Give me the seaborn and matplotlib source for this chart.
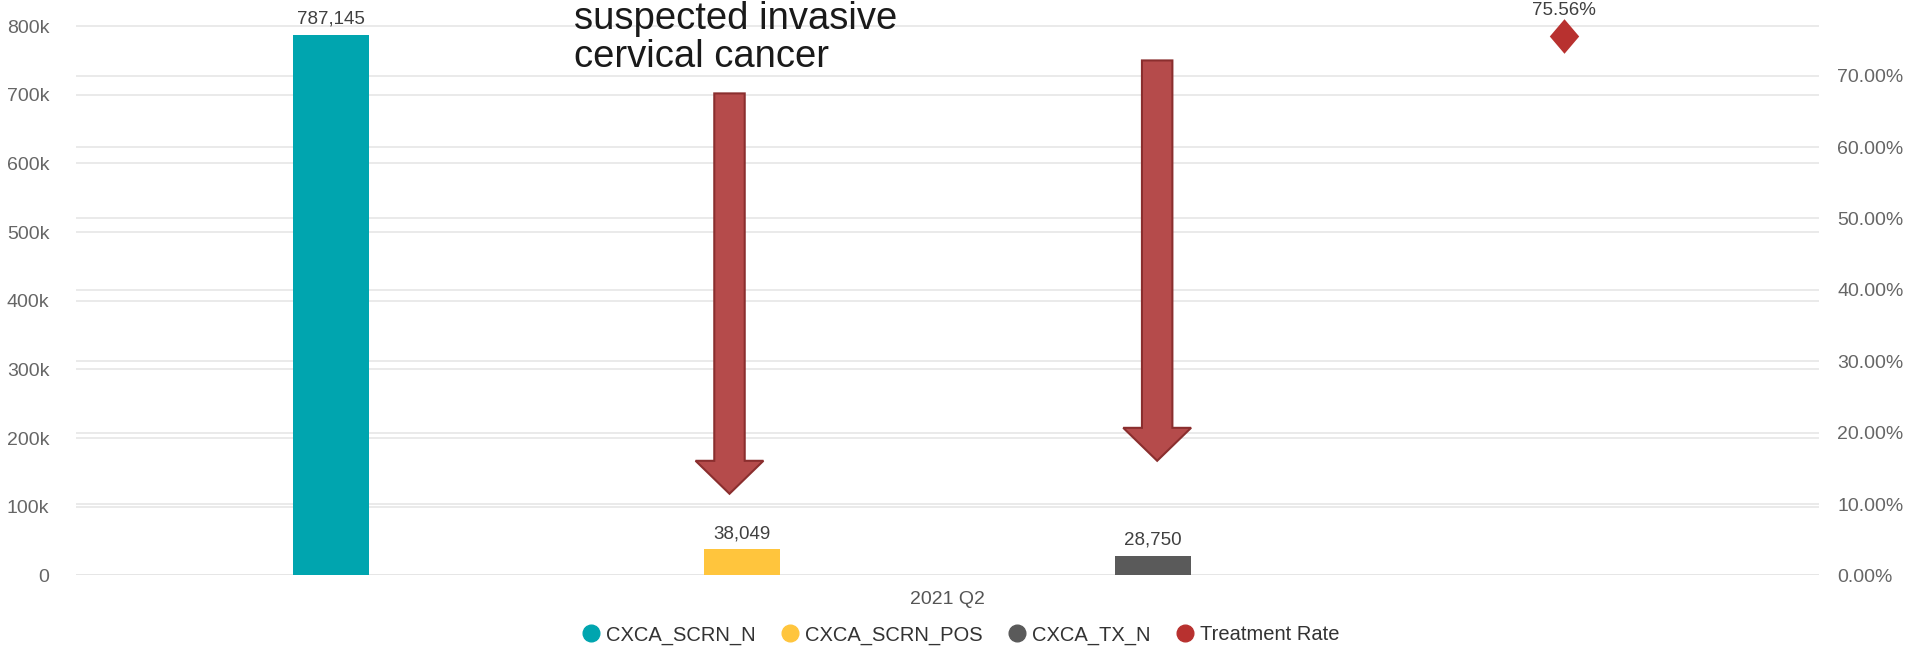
import numpy as np
import pandas as pd
import matplotlib
matplotlib.use("Agg")
import matplotlib.pyplot as plt
import seaborn as sns
from matplotlib.path import Path
from matplotlib.lines import Line2D
from matplotlib.patches import FancyArrow
from matplotlib.ticker import FuncFormatter

# ---------------- data ----------------
quarter = "2021 Q2"
series = ["CXCA_SCRN_N", "CXCA_SCRN_POS", "CXCA_TX_N", "Treatment Rate"]
bar_series = ["CXCA_SCRN_N", "CXCA_SCRN_POS", "CXCA_TX_N"]
bar_values = [787145, 38049, 28750]
rate_series = ["Treatment Rate"]
rate_values = [75.56]
colors = ["#00A5AF", "#FFC53D", "#5A5A5A", "#B8312F"]
left_ticks = [0, 100000, 200000, 300000, 400000, 500000, 600000, 700000, 800000]
right_ticks = [0, 10, 20, 30, 40, 50, 60, 70]
note_lines = ["suspected invasive", "cervical cancer"]
arrow_series = ["CXCA_SCRN_POS", "CXCA_TX_N"]

# ---------------- style ----------------
sns.set_theme(style="white")
plt.rcParams["font.family"] = ["Liberation Sans", "DejaVu Sans"]

fig = plt.figure(figsize=(19.15, 6.51), dpi=100)
ax = fig.add_axes([0.0395, 0.116, 0.9105, 0.884])
ax2 = ax.twinx()
ax.set_zorder(2)
ax.patch.set_visible(False)
ax2.set_zorder(1)

df = pd.DataFrame({"quarter": [quarter] * len(bar_series),
                   "series": bar_series, "value": bar_values})
palette = dict(zip(series, colors))
sns.barplot(data=df, x="quarter", y="value", hue="series", hue_order=series,
            palette=palette, width=0.8, gap=0.815, saturation=1,
            linewidth=0, ax=ax, legend=False)

n = len(series)
def slot(name):
    return -0.4 + 0.8 / n * (series.index(name) + 0.5)

LEFT_MAX = 838000
RIGHT_MAX = 80.6
ax.set_xlim(-0.424, 0.424)
ax.set_ylim(0, LEFT_MAX)
ax.set_yticks(left_ticks)
ax.yaxis.set_major_formatter(FuncFormatter(lambda v, p: "0" if v == 0 else f"{int(v/1000)}k"))
ax.set_xlabel("")
ax.set_ylabel("")
ax.grid(False)
ax.tick_params(axis="y", length=0, pad=19, labelsize=14, labelcolor="#666666")
ax.tick_params(axis="x", length=0, pad=11, labelsize=14, labelcolor="#555555")
for s in ax.spines.values():
    s.set_visible(False)

# left-axis gridlines drawn on the back axes so they stay behind the bars
for t in left_ticks:
    ax2.axhline(t / LEFT_MAX * RIGHT_MAX, color="#e6e6e6", linewidth=1.2, zorder=0)

for cont in ax.containers:
    ax.bar_label(cont, labels=[f"{v:,.0f}" for v in cont.datavalues], padding=5,
                 fontsize=13.5, color="#404040")

# secondary axis with the rate
diamond = Path([(0, 1), (0.85, 0), (0, -1), (-0.85, 0), (0, 1)],
               [Path.MOVETO, Path.LINETO, Path.LINETO, Path.LINETO, Path.CLOSEPOLY])
rate_x = [slot(s) for s in rate_series]
sns.scatterplot(x=rate_x, y=rate_values, marker=diamond, s=620,
                color=colors[3], linewidth=0, ax=ax2, legend=False, zorder=6)
ax2.set_ylim(0, RIGHT_MAX)
ax2.set_yticks(right_ticks)
ax2.yaxis.set_major_formatter(FuncFormatter(lambda v, p: f"{v:.2f}%"))
ax2.grid(axis="y", color="#e6e6e6", linewidth=1.2, zorder=0)
ax2.set_axisbelow(True)
ax2.tick_params(axis="y", length=0, pad=13, labelsize=14, labelcolor="#666666")
ax2.set_ylabel("")
for s in ax2.spines.values():
    s.set_visible(False)
for x, v in zip(rate_x, rate_values):
    ax2.annotate(f"{v:.2f}%", (x, v), xytext=(0, 12), textcoords="offset points",
                 ha="center", va="bottom", fontsize=13.5, color="#404040")

# overlay arrows
arrow_offsets = [-0.006, 0.002]
arrow_tops = [702000, 750000]
arrow_tips = [119000, 167000]
for name, off, top, tip in zip(arrow_series, arrow_offsets, arrow_tops, arrow_tips):
    arr = FancyArrow(slot(name) + off, top, 0, -(top - tip), width=0.0148,
                     head_width=0.0330, head_length=48000, length_includes_head=True,
                     facecolor="#B54B4B", edgecolor="#8A2E2E", linewidth=1.5, zorder=8)
    ax.add_patch(arr)

# overlay note text (cut at top)
fig.text(0.2997, 0.955, note_lines[0], fontsize=27.5, color="#1a1a1a", va="baseline", ha="left")
fig.text(0.2997, 0.897, note_lines[1], fontsize=27.5, color="#1a1a1a", va="baseline", ha="left")

# legend
handles = [Line2D([0], [0], marker="o", linestyle="", markersize=12,
                  markerfacecolor=c, markeredgecolor=c) for c in colors]
fig.legend(handles, series, loc="lower center", bbox_to_anchor=(0.502, -0.018), ncol=4,
           frameon=False, fontsize=14.5, handlelength=0.8, handletextpad=0.35,
           columnspacing=1.3, labelcolor="#333333")

fig.savefig("out.png", dpi=100)
